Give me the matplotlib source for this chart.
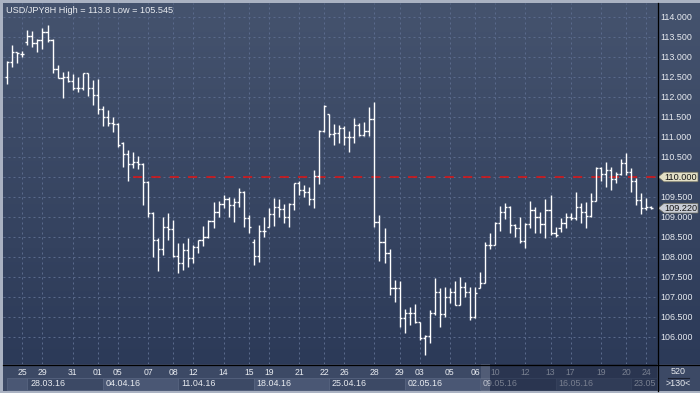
import numpy as np
import pandas as pd
import matplotlib
matplotlib.use("Agg")
import matplotlib.pyplot as plt
from matplotlib.patches import Rectangle, Polygon
from matplotlib.lines import Line2D
from matplotlib.transforms import Affine2D, blended_transform_factory
from matplotlib.colors import LinearSegmentedColormap

plt.rcParams['font.family'] = ['Liberation Sans', 'DejaVu Sans']

W, H = 700, 393

# ---------------------------------------------
# data (USD/JPY, 8H bars)
# ---------------------------------------------
symbol = 'USD/JPY8H'
high_text = '113.8'
low_text = '105.545'

opens = [112.49, 112.88, 113.12, 113.08, 113.37, 113.52, 113.34, 113.42, 113.62, 113.42,
         112.69, 112.47, 112.51, 112.41, 112.22, 112.22, 112.59, 112.22, 112.05, 111.69,
         111.49, 111.34, 111.33, 110.84, 110.58, 110.32, 110.37, 110.33, 109.88, 109.11,
         108.43, 108.19, 108.76, 108.70, 108.03, 107.84, 108.18, 107.97, 108.24, 108.43,
         108.49, 108.91, 109.12, 109.33, 109.44, 109.30, 109.38, 109.63, 108.97, 108.38,
         108.03, 108.66, 108.76, 109.08, 109.24, 109.19, 109.01, 109.33, 109.84, 109.68,
         109.63, 109.44, 110.03, 111.16, 111.57, 111.08, 111.11, 111.22, 111.01, 111.01,
         111.30, 111.05, 111.15, 111.44, 108.88, 108.38, 108.11, 107.22, 107.22, 106.47,
         106.59, 106.59, 106.38, 105.97, 106.03, 106.59, 107.13, 106.58, 107.01, 107.13,
         106.80, 107.26, 107.13, 106.49, 107.22, 107.36, 108.30, 108.30, 108.86, 109.13,
         109.26, 108.80, 108.72, 108.41, 108.83, 109.18, 109.01, 108.82, 109.18, 108.61,
         108.72, 108.84, 109.01, 108.97, 109.24, 109.13, 109.03, 109.41, 110.22, 110.08,
         110.18, 109.94, 110.08, 110.34, 110.12, 109.91, 109.43, 109.22, 109.26]
highs = [112.91, 113.30, 113.13, 113.16, 113.67, 113.66, 113.44, 113.72, 113.80, 113.45,
         112.80, 112.63, 112.65, 112.57, 112.49, 112.59, 112.59, 112.42, 112.45, 111.78,
         111.68, 111.49, 111.34, 110.88, 110.68, 110.63, 110.53, 110.34, 109.90, 109.13,
         108.47, 108.99, 109.11, 108.93, 108.34, 108.34, 108.47, 108.30, 108.43, 108.78,
         108.92, 109.38, 109.41, 109.55, 109.51, 109.47, 109.72, 109.66, 109.05, 108.44,
         108.80, 108.99, 109.22, 109.48, 109.45, 109.32, 109.36, 109.86, 109.90, 109.80,
         109.76, 110.18, 111.18, 111.80, 111.58, 111.33, 111.30, 111.28, 111.16, 111.47,
         111.34, 111.38, 111.76, 111.88, 109.05, 108.72, 108.19, 107.43, 107.41, 106.69,
         106.76, 106.83, 106.38, 106.05, 106.68, 107.47, 107.22, 107.26, 107.22, 107.41,
         107.51, 107.38, 107.24, 107.24, 107.63, 108.38, 108.59, 108.88, 109.28, 109.36,
         109.28, 108.82, 108.99, 108.84, 109.41, 109.26, 109.13, 109.45, 109.55, 108.76,
         108.97, 109.11, 109.09, 109.63, 109.34, 109.38, 109.59, 110.26, 110.26, 110.38,
         110.26, 110.13, 110.45, 110.59, 110.22, 109.97, 109.59, 109.47, 109.28]
lows = [112.33, 112.74, 112.86, 112.99, 113.30, 113.26, 113.13, 113.20, 113.38, 112.59,
        112.47, 111.98, 112.38, 112.18, 112.13, 112.18, 112.03, 111.80, 111.57, 111.28,
        111.28, 111.13, 110.76, 110.24, 109.91, 110.22, 110.20, 109.30, 108.99, 108.01,
        107.66, 108.05, 108.43, 108.01, 107.61, 107.68, 107.76, 107.84, 108.09, 108.28,
        108.47, 108.72, 109.01, 109.22, 109.01, 108.88, 109.26, 108.76, 108.59, 107.80,
        107.88, 108.51, 108.74, 108.78, 109.01, 108.86, 108.74, 109.18, 109.55, 109.51,
        109.30, 109.22, 109.83, 111.13, 111.01, 110.80, 110.84, 110.80, 110.63, 110.84,
        111.03, 111.03, 111.03, 108.76, 107.91, 107.84, 107.05, 106.88, 106.26, 106.11,
        106.30, 106.34, 105.93, 105.545, 105.84, 106.55, 106.24, 106.51, 106.84, 106.80,
        106.80, 107.01, 106.43, 106.47, 107.22, 107.36, 108.19, 108.30, 108.66, 108.94,
        108.61, 108.49, 108.36, 108.22, 108.72, 108.61, 108.61, 108.48, 108.55, 108.51,
        108.63, 108.72, 108.93, 108.93, 108.84, 108.72, 109.01, 109.41, 109.91, 109.76,
        109.68, 109.86, 110.05, 110.05, 109.63, 109.30, 109.08, 109.18, 109.20]
closes = [112.88, 113.12, 113.09, 113.08, 113.52, 113.34, 113.42, 113.62, 113.42, 112.69,
          112.47, 112.51, 112.41, 112.22, 112.22, 112.59, 112.22, 112.05, 111.69, 111.49,
          111.34, 111.33, 110.80, 110.58, 110.33, 110.37, 110.33, 109.88, 109.11, 108.43,
          108.19, 108.76, 108.70, 108.03, 107.84, 108.18, 107.97, 108.24, 108.43, 108.49,
          108.91, 109.12, 109.33, 109.44, 109.30, 109.38, 109.63, 108.97, 108.74, 108.03,
          108.66, 108.66, 109.08, 109.24, 109.19, 109.01, 109.33, 109.84, 109.68, 109.63,
          109.44, 110.03, 111.16, 111.78, 111.08, 111.11, 111.22, 111.01, 111.01, 111.30,
          111.05, 111.15, 111.44, 108.88, 108.38, 108.11, 107.22, 107.22, 106.47, 106.59,
          106.59, 106.38, 105.97, 106.03, 106.59, 107.13, 106.58, 107.01, 107.13, 106.80,
          107.26, 107.13, 106.49, 107.11, 107.36, 108.30, 108.30, 108.86, 109.13, 109.26,
          108.80, 108.72, 108.41, 108.83, 109.18, 109.01, 108.82, 109.18, 108.61, 108.55,
          108.84, 109.01, 108.97, 109.24, 109.13, 109.03, 109.41, 110.22, 110.08, 110.18,
          109.94, 110.08, 110.34, 110.12, 109.91, 109.43, 109.22, 109.26, 109.22]

first_day = '2016-03-24'
last_day = '2016-05-24'
bar_hours = [0, 8, 16]

price_ticks = [106.0, 106.5, 107.0, 107.5, 108.0, 108.5, 109.0, 109.5, 110.0,
               110.5, 111.0, 111.5, 112.0, 112.5, 113.0, 113.5, 114.0]
ref_level = 110.0
ref_start = '2016-04-06 00:00'
last_price = 109.22

day_label_dates = ['2016-03-25', '2016-03-29', '2016-03-31', '2016-04-01', '2016-04-05',
                   '2016-04-07', '2016-04-08', '2016-04-12', '2016-04-14', '2016-04-15',
                   '2016-04-19', '2016-04-21', '2016-04-22', '2016-04-26', '2016-04-28',
                   '2016-04-29', '2016-05-03', '2016-05-05', '2016-05-06', '2016-05-10',
                   '2016-05-12', '2016-05-13', '2016-05-17', '2016-05-19', '2016-05-20',
                   '2016-05-24']
week_starts = ['2016-03-28', '2016-04-04', '2016-04-11', '2016-04-18', '2016-04-25',
               '2016-05-02', '2016-05-09', '2016-05-16', '2016-05-23']
scroll_from = '2016-05-09 16:00'
zoom_text = '520'
count_text = '>130<'

# colours
BG_TOP = '#45536e'
BG_BOTTOM = '#2c3a58'
PANEL = '#3c4965'
PANEL_LIGHT = '#4a5774'
GRID = '#5a6a8c'
TEXT = '#e8ebf0'
FRAME = '#aab2c2'


# ---------------------------------------------
# bar times
# ---------------------------------------------
days = pd.bdate_range(first_day, last_day)
all_times = [d + pd.Timedelta(hours=h) for d in days for h in bar_hours]
times = pd.DatetimeIndex(all_times[2:2 + len(opens)])
x = np.arange(len(times))


def bar_of(stamp):
    return int(np.argmin(np.abs(times - pd.Timestamp(stamp))))


def day_bar(day):
    day = pd.Timestamp(day)
    idx = np.where(times.normalize() == day)[0]
    # friday labels sit on the last bar of the day
    return idx[-1] if day.weekday() == 4 else idx[0]


def px_axes(left, top, right, bottom, **kw):
    return fig.add_axes([left / W, 1 - bottom / H, (right - left) / W, (bottom - top) / H], **kw)


def bare(a):
    a.set_xticks([])
    a.set_yticks([])
    for s in a.spines.values():
        s.set_visible(False)


fig = plt.figure(figsize=(W / 100, H / 100), dpi=100, facecolor=FRAME)
px = Affine2D().scale(1 / W, -1 / H).translate(0, 1) + fig.transFigure

#-------------------
# background gradient
#-------------------
bg = px_axes(3, 3, 700, 364)
grad_cmap = LinearSegmentedColormap.from_list('bg', [BG_BOTTOM, BG_TOP])
bg.imshow(np.linspace(0, 1, 256).reshape(-1, 1)[::-1], cmap=grad_cmap, aspect='auto',
          extent=[0, 1, 0, 1], origin='upper')
bg.set_axis_off()

#-------------------
# main chart
#-------------------
ax = px_axes(3, 3, 657, 364)
ax.patch.set_alpha(0)
ax.set_xlim(-0.85, len(x) + 0.17)
ax.set_ylim(105.325, 114.35)

day_pos = [day_bar(d) for d in day_label_dates]
ax.set_xticks(day_pos)
ax.set_yticks(price_ticks)
# the 110.000 label sits under the marker box
ax.set_yticklabels(['' if p == ref_level else f'{p:.3f}' for p in price_ticks])
ax.yaxis.tick_right()
ax.tick_params(axis='x', length=0, labelbottom=False)
ax.tick_params(axis='y', length=0, pad=2.5, labelsize=6.4, labelcolor=TEXT)
ax.grid(True, color=GRID, linewidth=0.72, linestyle=(0, (2, 3)))
for s in ax.spines.values():
    s.set_visible(False)

# OHLC bars
tick_w = 0.42
ax.vlines(x, lows, highs, color='white', linewidth=1.0, zorder=3)
ax.hlines(opens, x - tick_w, x, color='white', linewidth=1.0, zorder=3)
ax.hlines(closes, x, x + tick_w, color='white', linewidth=1.0, zorder=3)

# reference line
ax.hlines(ref_level, bar_of(ref_start), len(x) + 0.17, color='#e01414', linewidth=1.1,
          linestyle=(0, (6, 6)), zorder=2)

ax.text(-0.3, 1 - 8 / 361, f'{symbol} High = {high_text} Low = {low_text}',
        transform=blended_transform_factory(ax.transData, ax.transAxes),
        color=TEXT, fontsize=6.6, va='center', ha='left')

# price markers on the axis
ppx = (114.35 - 105.325) / 361
blend = blended_transform_factory(px, ax.transData)
for level, face in [(ref_level, '#e3e0c6'), (last_price, '#c9cdd6')]:
    half = 4.8 * ppx
    poly = Polygon([(658, level), (664, level + half), (698, level + half),
                    (698, level - half), (664, level - half)], closed=True,
                   facecolor=face, edgecolor='#6a6a5c', linewidth=0.5,
                   transform=blend, clip_on=False, zorder=5)
    ax.add_patch(poly)
    ax.text(681, level, f'{level:.3f}', transform=blend, ha='center', va='center',
            fontsize=6.6, color='#141414', clip_on=False, zorder=6)

#-------------------
# time axis panel
#-------------------
bx = px_axes(3, 364, 657, 391)
bx.set_facecolor(PANEL)
bx.set_xlim(ax.get_xlim())
bx.set_ylim(0, 1)
bare(bx)

week_pos = [bar_of(w) for w in week_starts]
edges = [0] + week_pos + [len(x) + 0.17]
for k in range(len(edges) - 1):
    face = PANEL_LIGHT if k % 2 == 0 else PANEL
    bx.add_patch(Rectangle((edges[k], 0.02), edges[k + 1] - edges[k], 0.48,
                           facecolor=face, edgecolor='#56637f', linewidth=0.6))
for k, (w, p) in enumerate(zip(week_starts, week_pos)):
    # the last week label is cut at the panel edge
    fmt = '%d.%m' if k == len(week_starts) - 1 else '%d.%m.%y'
    bx.text(p + 0.55, 0.26, pd.Timestamp(w).strftime(fmt), color=TEXT,
            fontsize=6.4, va='center', ha='left', clip_on=True)
for d, p in zip(day_label_dates, day_pos):
    bx.text(p, 0.68, pd.Timestamp(d).strftime('%d'), color=TEXT, fontsize=6.2,
            va='center', ha='center')

# dimmed (scrolled) part of the time axis
sp = bar_of(scroll_from)
bx.add_patch(Rectangle((sp - 1.8, 0), 1.8, 1, facecolor='#7a8196', alpha=0.35, zorder=5))
bx.add_patch(Rectangle((sp, 0), len(x) + 1, 1, facecolor='#1c2640', alpha=0.55, zorder=5))

#-------------------
# corner box
#-------------------
cx = px_axes(657, 364, 700, 391)
cx.set_facecolor(PANEL)
cx.set_xlim(0, 1)
cx.set_ylim(0, 1)
bare(cx)
cx.text(0.5, 0.74, zoom_text, transform=cx.transAxes, color=TEXT, fontsize=6.4,
        ha='center', va='center')
cx.text(0.5, 0.27, count_text, transform=cx.transAxes, color=TEXT, fontsize=6.4,
        ha='center', va='center')
cx.plot([0.25, 0.75], [0.48, 0.48], transform=cx.transAxes, color='#1a2030', linewidth=0.8)

# borders
fig.add_artist(Line2D([657.5, 657.5], [3, 391], transform=px, color='black', linewidth=0.9))
fig.add_artist(Line2D([3, 700], [364.5, 364.5], transform=px, color='black', linewidth=0.9))

fig.savefig('out.png', dpi=100, facecolor=FRAME)
